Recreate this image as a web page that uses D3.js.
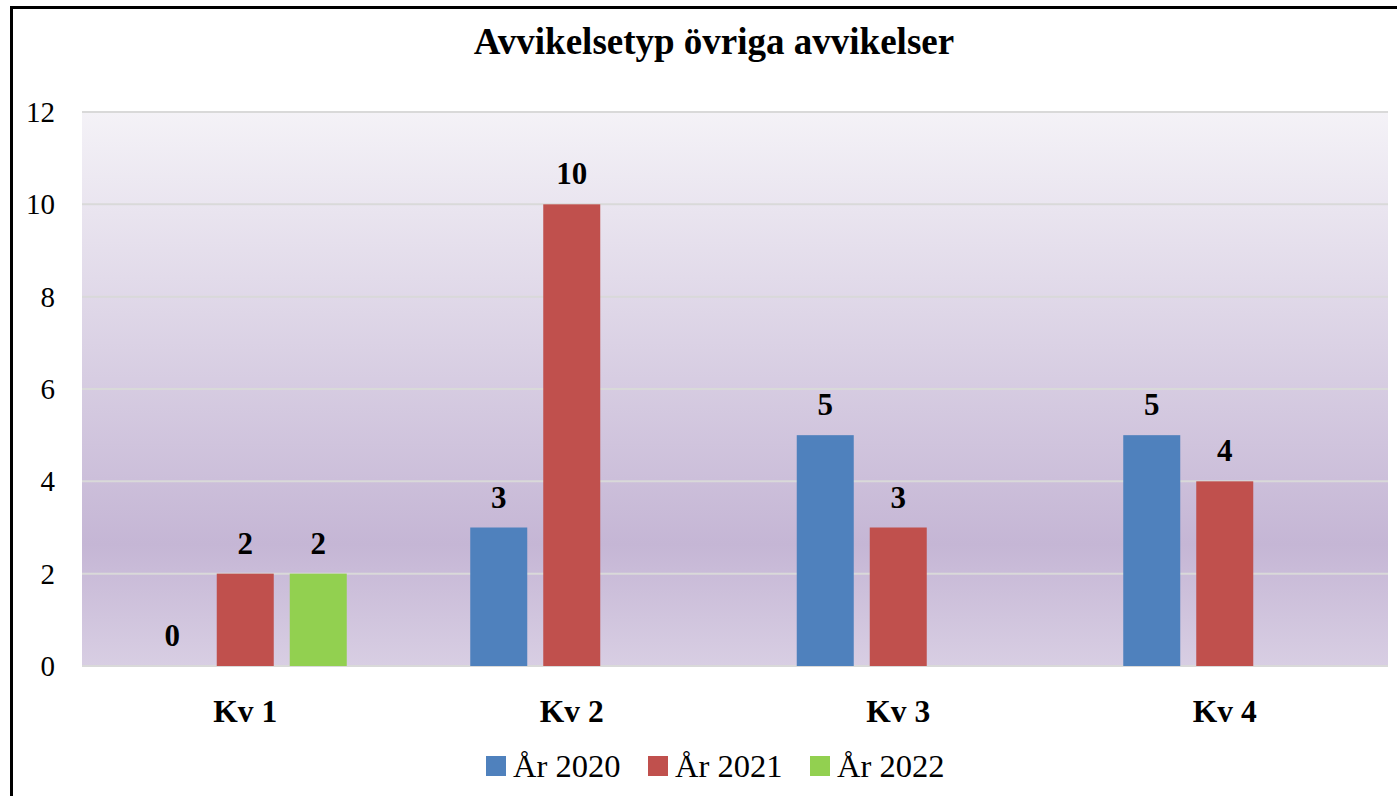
<!DOCTYPE html>
<html>
<head>
<meta charset="utf-8">
<script src="https://cdn.jsdelivr.net/npm/d3@7"></script>
<style>
  body { margin: 0; background: #fff; }
</style>
</head>
<body>
<div id="chart"></div>
<script>
// chart data
const categories = ["Kv 1", "Kv 2", "Kv 3", "Kv 4"];
const seriesNames = ["År 2020", "År 2021", "År 2022"];
const values2020 = [0, 3, 5, 5];
const values2021 = [2, 10, 3, 4];
const values2022 = [2, null, null, null];
const yTicks = [0, 2, 4, 6, 8, 10, 12];

const colors = ["#4f81bd", "#c0504d", "#92d050"];
const allSeries = [values2020, values2021, values2022];
const FONT = "'Liberation Serif', 'Times New Roman', serif";

const W = 1397, H = 796;
const margin = { top: 112, right: 9, bottom: 130, left: 82 };
const width = W - margin.left - margin.right;
const height = H - margin.top - margin.bottom;

const svg = d3.select("#chart").append("svg")
	.attr("width", W)
	.attr("height", H)
	.attr("font-family", FONT);

// outer frame (left and top edges visible)
svg.append("rect")
	.attr("x", 11.5).attr("y", 7.5)
	.attr("width", W + 10).attr("height", H + 10)
	.attr("fill", "none")
	.attr("stroke", "#000")
	.attr("stroke-width", 3);

// plot background gradient
const defs = svg.append("defs");
const grad = defs.append("linearGradient")
	.attr("id", "bgGrad")
	.attr("x1", "0%").attr("y1", "0%")
	.attr("x2", "0%").attr("y2", "100%");
grad.append("stop").attr("offset", "0%").style("stop-color", "#f4f2f7");
grad.append("stop").attr("offset", "78%").style("stop-color", "#c5b6d5");
grad.append("stop").attr("offset", "100%").style("stop-color", "#d8cee3");

const g = svg.append("g")
	.attr("transform", "translate(" + margin.left + "," + margin.top + ")");

g.append("rect")
	.attr("width", width)
	.attr("height", height)
	.attr("fill", "url(#bgGrad)");

// scales
const x0 = d3.scaleBand()
	.domain(categories)
	.range([0, width]);

const y = d3.scaleLinear()
	.domain([0, 12])
	.range([height, 0]);

const barW = 57, barGap = 16;
const groupW = seriesNames.length * barW + (seriesNames.length - 1) * barGap;
const x1 = d3.scaleBand()
	.domain(seriesNames)
	.range([0, groupW])
	.paddingInner(barGap / (barW + barGap));

// gridlines
g.selectAll(".grid")
	.data(yTicks)
	.join("line")
	.attr("class", "grid")
	.attr("x1", 0)
	.attr("x2", width)
	.attr("y1", d => y(d))
	.attr("y2", d => y(d))
	.attr("stroke", "#d9d9d9")
	.attr("stroke-width", 2);

// y axis labels
g.selectAll(".ytick")
	.data(yTicks)
	.join("text")
	.attr("class", "ytick")
	.attr("x", -27)
	.attr("y", d => y(d) + 10)
	.attr("text-anchor", "end")
	.style("font-size", "29px")
	.text(d => d);

// bars
const groups = g.selectAll(".cat")
	.data(categories)
	.join("g")
	.attr("class", "cat")
	.attr("transform", d => "translate(" + (x0(d) + (x0.bandwidth() - groupW) / 2) + ",0)");

groups.each(function (cat, ci) {
	const grp = d3.select(this);
	seriesNames.forEach((s, si) => {
		const v = allSeries[si][ci];
		if (v === null) return;
		grp.append("rect")
			.attr("x", x1(s))
			.attr("y", y(v))
			.attr("width", x1.bandwidth())
			.attr("height", height - y(v))
			.attr("fill", colors[si]);
		grp.append("text")
			.attr("x", x1(s) + x1.bandwidth() / 2)
			.attr("y", y(v) - 20)
			.attr("text-anchor", "middle")
			.style("font-size", "31px")
			.style("font-weight", "bold")
			.text(v);
	});
});

// category labels
g.selectAll(".xlabel")
	.data(categories)
	.join("text")
	.attr("class", "xlabel")
	.attr("x", d => x0(d) + x0.bandwidth() / 2)
	.attr("y", height + 56)
	.attr("text-anchor", "middle")
	.style("font-size", "31.5px")
	.style("font-weight", "bold")
	.text(d => d);

// title
svg.append("text")
	.attr("x", 714)
	.attr("y", 54)
	.attr("text-anchor", "middle")
	.style("font-size", "37px")
	.style("font-weight", "bold")
	.text("Avvikelsetyp övriga avvikelser");

// legend
const legendX = [486, 648, 810];
const legend = svg.append("g").attr("class", "legend");
seriesNames.forEach((s, i) => {
	legend.append("rect")
		.attr("x", legendX[i])
		.attr("y", 756)
		.attr("width", 20)
		.attr("height", 20)
		.attr("fill", colors[i]);
	legend.append("text")
		.attr("x", legendX[i] + 27)
		.attr("y", 777)
		.style("font-size", "32.5px")
		.text(s);
});
</script>
</body>
</html>
